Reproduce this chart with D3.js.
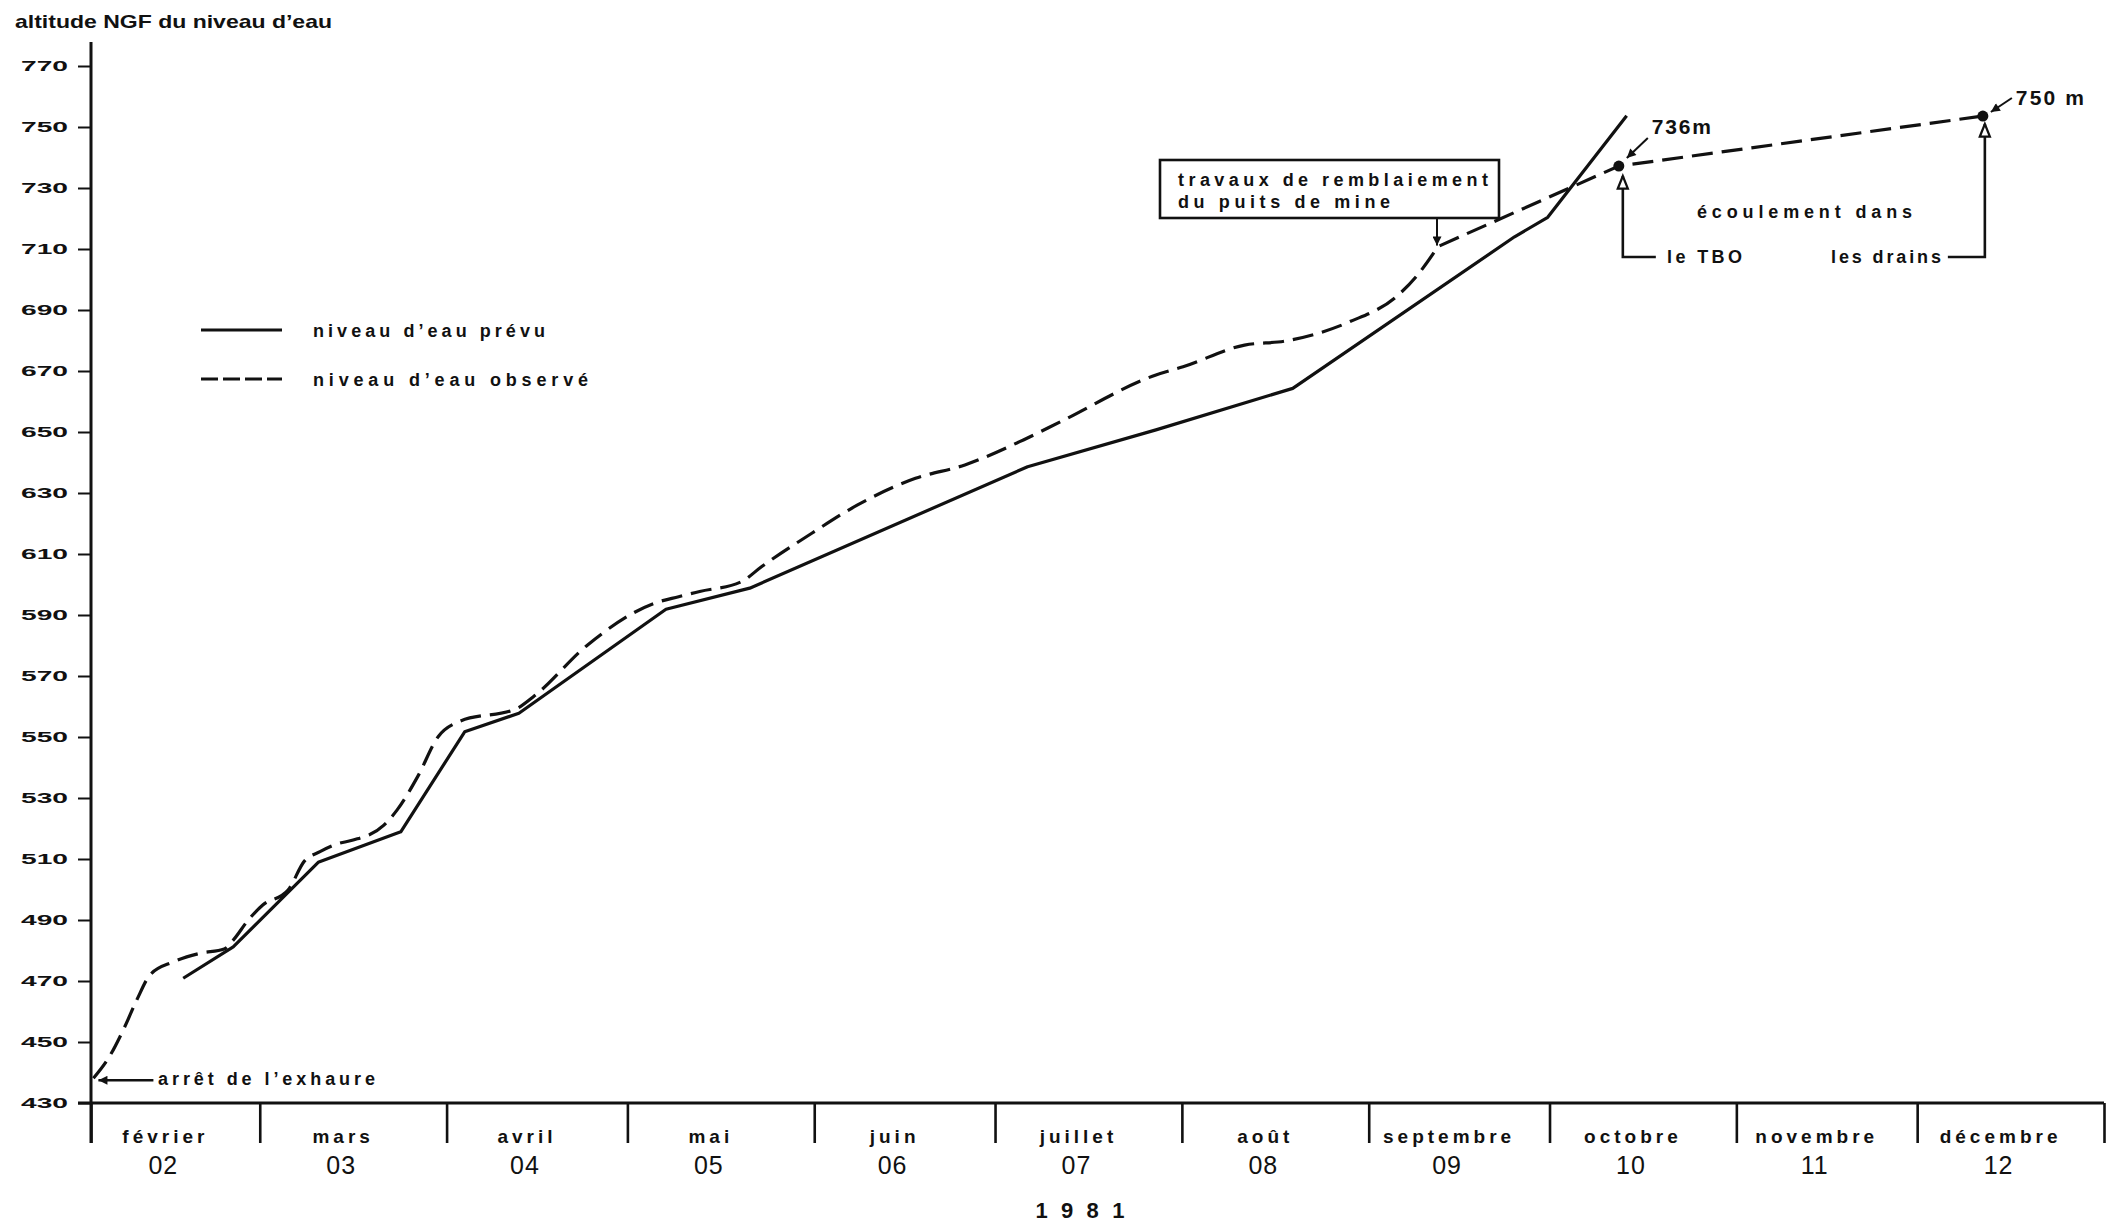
<!DOCTYPE html>
<html lang="fr">
<head>
<meta charset="utf-8">
<script src="https://cdn.jsdelivr.net/npm/d3@7"></script>
<style>
  html, body { margin: 0; padding: 0; background: #fff; }
  svg { display: block; }
  text { font-family: 'Liberation Sans', 'DejaVu Sans', sans-serif; fill: #111; }
</style>
</head>
<body>
<svg id="chart"></svg>
<script>
'use strict'

// --- données ---
const moisNoms = ['février', 'mars', 'avril', 'mai', 'juin', 'juillet', 'août',
  'septembre', 'octobre', 'novembre', 'décembre']
const moisNums = ['02', '03', '04', '05', '06', '07', '08', '09', '10', '11', '12']
const annee = '1 9 8 1'
const yTicks = [430, 450, 470, 490, 510, 530, 550, 570, 590, 610, 630, 650,
  670, 690, 710, 730, 750, 770]

// jours comptés depuis le 1er février 1981
const joursPrevu = [15.3, 23.6, 37.7, 51.4, 62.0, 71.0, 95.4, 109.3, 155.4,
  176.7, 199.4, 236.2, 241.7, 254.8]
const niveauPrevu = [470.9, 481.2, 508.9, 518.9, 551.7, 557.8, 591.9, 598.8,
  638.6, 650.7, 664.3, 714.0, 720.4, 753.7]

const joursObserve = [0.4, 3.2, 5.6, 7.6, 9.8, 13.7, 18.1, 22.1, 23.6, 26.1,
  28.5, 32.7, 35.4, 38.0, 41.1, 43.5, 48.6, 50.8, 54.2, 57.6, 61.0, 70.7, 73.4,
  82.4, 93.4, 97.5, 101.0, 107.9, 111.3, 119.6, 127.2, 136.8, 145.0, 154.7,
  160.9, 176.7, 181.2, 191.4, 198.1, 208.9, 216.6, 219.9, 223.5, 253.5, 313.9]
const niveauObserve = [438.1, 445.7, 455.0, 463.8, 472.0, 476.3, 479.1, 480.5,
  483.4, 490.0, 494.9, 499.8, 509.3, 512.4, 515.1, 516.2, 521.1, 526.1, 537.0,
  550.1, 555.0, 559.4, 563.2, 580.2, 593.8, 596.0, 597.7, 600.9, 605.9, 616.8,
  626.1, 634.8, 639.2, 647.4, 653.4, 668.7, 671.4, 678.5, 679.8, 686.2, 694.4,
  701.0, 710.8, 737.2, 753.6]

// points remarquables
const jourRemblaiement = 223.5
const niveauRemblaiement = 710.8
const repereJours = [253.5, 313.9]
const repereNiveaux = [737.2, 753.6]
const repereLabels = ['736m', '750 m']

// --- mise en page ---
const width = 2107,
  height = 1222
const margin = { top: 66, right: 3, bottom: 119, left: 91 }
const ink = '#111'

const debut = Date.UTC(1981, 1, 1)
const toDate = j => new Date(debut + j * 864e5)

const svg = d3.select('#chart')
  .attr('width', width)
  .attr('height', height)

const x = d3.scaleUtc()
  .domain([new Date(debut), new Date(Date.UTC(1982, 0, 1))])
  .range([margin.left, width - margin.right])

const y = d3.scaleLinear()
  .domain([430, 770])
  .range([height - margin.bottom, margin.top])

// markers
const defs = svg.append('defs')
defs.append('marker')
  .attr('id', 'fleche')
  .attr('viewBox', '0 0 10 10')
  .attr('refX', 10).attr('refY', 5)
  .attr('markerWidth', 15).attr('markerHeight', 9)
  .attr('markerUnits', 'userSpaceOnUse')
  .attr('orient', 'auto')
  .append('path')
  .attr('d', 'M0,0 L10,5 L0,10 z')
  .attr('fill', ink)
defs.append('marker')
  .attr('id', 'flecheVide')
  .attr('viewBox', '-1 -1 12 12')
  .attr('refX', 10).attr('refY', 5)
  .attr('markerWidth', 19).attr('markerHeight', 15)
  .attr('markerUnits', 'userSpaceOnUse')
  .attr('orient', 'auto')
  .append('path')
  .attr('d', 'M0,1 L10,5 L0,9 z')
  .attr('fill', '#fff')
  .attr('stroke', ink)
  .attr('stroke-width', 1.8)

// title
svg.append('text')
  .attr('x', 15).attr('y', 28)
  .attr('font-size', 19).attr('font-weight', 'bold')
  .attr('textLength', 317).attr('lengthAdjust', 'spacingAndGlyphs')
  .text('altitude NGF du niveau d’eau')

// y axis
const yAxis = svg.append('g')
  .attr('transform', 'translate(' + margin.left + ',0)')
  .call(d3.axisLeft(y).tickValues(yTicks).tickSize(13).tickPadding(10)
    .tickFormat(d3.format('d')))
yAxis.select('.domain').remove()
yAxis.selectAll('.tick line').attr('stroke', ink).attr('stroke-width', 2)
yAxis.selectAll('.tick text')
  .attr('font-size', 15).attr('font-weight', 'bold')
  .attr('font-family', "'Liberation Sans', sans-serif")
  .attr('fill', ink)
  .attr('textLength', 47).attr('lengthAdjust', 'spacingAndGlyphs')

svg.append('line')
  .attr('x1', margin.left).attr('x2', margin.left)
  .attr('y1', 42).attr('y2', y(430) + 40)
  .attr('stroke', ink).attr('stroke-width', 3)

// x axis
const xAxis = svg.append('g')
  .attr('transform', 'translate(0,' + y(430) + ')')
  .call(d3.axisBottom(x).ticks(d3.utcMonth.every(1)).tickSize(40).tickFormat(''))
xAxis.select('.domain').remove()
xAxis.selectAll('.tick line').attr('stroke', ink).attr('stroke-width', 2.6)

svg.append('line')
  .attr('x1', margin.left - 13).attr('x2', width - margin.right)
  .attr('y1', y(430)).attr('y2', y(430))
  .attr('stroke', ink).attr('stroke-width', 3)

const milieux = d3.utcMonths(new Date(debut), new Date(Date.UTC(1982, 0, 1)))
  .map(m => new Date((+m + +d3.utcMonth.offset(m, 1)) / 2))

svg.append('g').selectAll('text')
  .data(moisNoms)
  .join('text')
  .attr('x', (d, i) => x(milieux[i]) - 10)
  .attr('y', y(430) + 40)
  .attr('text-anchor', 'middle')
  .attr('font-size', 19).attr('font-weight', 'bold')
  .attr('letter-spacing', 4)
  .text(d => d)

svg.append('g').selectAll('text')
  .data(moisNums)
  .join('text')
  .attr('x', (d, i) => x(milieux[i]) - 12)
  .attr('y', y(430) + 71)
  .attr('text-anchor', 'middle')
  .attr('font-size', 25)
  .attr('letter-spacing', 1)
  .text(d => d)

svg.append('text')
  .attr('x', x(new Date(Date.UTC(1981, 6, 15))) - 44)
  .attr('y', y(430) + 115)
  .attr('font-size', 22).attr('font-weight', 'bold')
  .attr('textLength', 89).attr('lengthAdjust', 'spacing')
  .text(annee)

// lines
const prevu = joursPrevu.map((j, i) => ({ date: toDate(j), v: niveauPrevu[i] }))
const observe = joursObserve.map((j, i) => ({ date: toDate(j), v: niveauObserve[i] }))

svg.append('path')
  .datum(prevu)
  .attr('fill', 'none')
  .attr('stroke', ink)
  .attr('stroke-width', 3.2)
  .attr('stroke-linejoin', 'round')
  .attr('d', d3.line().x(d => x(d.date)).y(d => y(d.v)))

// observed: smooth up to the backfilling works, straight segments afterwards
const iKink = joursObserve.indexOf(jourRemblaiement)
const courbe = d3.line().x(d => x(d.date)).y(d => y(d.v)).curve(d3.curveMonotoneX)
const suite = observe.slice(iKink + 1).map(d => 'L' + x(d.date) + ',' + y(d.v)).join('')

svg.append('path')
  .attr('fill', 'none')
  .attr('stroke', ink)
  .attr('stroke-width', 3.2)
  .attr('stroke-dasharray', '21,9')
  .attr('d', courbe(observe.slice(0, iKink + 1)) + suite)

// legend
const legend = svg.append('g')
legend.append('line')
  .attr('x1', 201).attr('x2', 282).attr('y1', 330).attr('y2', 330)
  .attr('stroke', ink).attr('stroke-width', 3.2)
legend.append('line')
  .attr('x1', 201).attr('x2', 282).attr('y1', 379).attr('y2', 379)
  .attr('stroke', ink).attr('stroke-width', 3.2)
  .attr('stroke-dasharray', '17,5')
legend.append('text')
  .attr('x', 313).attr('y', 337)
  .attr('font-size', 18).attr('font-weight', 'bold')
  .attr('textLength', 232).attr('lengthAdjust', 'spacing')
  .text('niveau d’eau prévu')
legend.append('text')
  .attr('x', 313).attr('y', 386)
  .attr('font-size', 18).attr('font-weight', 'bold')
  .attr('textLength', 275).attr('lengthAdjust', 'spacing')
  .text('niveau d’eau observé')

// annotation : arrêt de l'exhaure
const p0 = observe[0]
svg.append('line')
  .attr('x1', x(p0.date) + 60).attr('x2', x(p0.date) + 5)
  .attr('y1', y(p0.v) + 2).attr('y2', y(p0.v) + 2)
  .attr('stroke', ink).attr('stroke-width', 2.4)
  .attr('marker-end', 'url(#fleche)')
svg.append('text')
  .attr('x', 158).attr('y', 1085)
  .attr('font-size', 18).attr('font-weight', 'bold')
  .attr('textLength', 217).attr('lengthAdjust', 'spacing')
  .text('arrêt de l’exhaure')

// annotation : travaux de remblaiement
const px = x(toDate(jourRemblaiement)), py = y(niveauRemblaiement)
svg.append('rect')
  .attr('x', 1160).attr('y', 160).attr('width', 339).attr('height', 58)
  .attr('fill', '#fff').attr('stroke', ink).attr('stroke-width', 2.6)
svg.append('text')
  .attr('x', 1178).attr('y', 186)
  .attr('font-size', 18).attr('font-weight', 'bold')
  .attr('textLength', 310).attr('lengthAdjust', 'spacing')
  .text('travaux de remblaiement')
svg.append('text')
  .attr('x', 1178).attr('y', 208)
  .attr('font-size', 18).attr('font-weight', 'bold')
  .attr('textLength', 212).attr('lengthAdjust', 'spacing')
  .text('du puits de mine')
svg.append('line')
  .attr('x1', px - 1).attr('x2', px - 1)
  .attr('y1', 218).attr('y2', py - 1)
  .attr('stroke', ink).attr('stroke-width', 2)
  .attr('marker-end', 'url(#fleche)')

// repères 736 m et 750 m
const reperes = repereJours.map((j, i) => ({
  x: x(toDate(j)), y: y(repereNiveaux[i]), label: repereLabels[i]
}))

svg.append('g').selectAll('circle')
  .data(reperes)
  .join('circle')
  .attr('cx', d => d.x).attr('cy', d => d.y).attr('r', 5.5)
  .attr('fill', ink)

svg.append('g').selectAll('text')
  .data(reperes)
  .join('text')
  .attr('x', d => d.x + 33)
  .attr('y', (d, i) => d.y - (i === 0 ? 32 : 11))
  .attr('font-size', 21).attr('font-weight', 'bold')
  .attr('textLength', (d, i) => (i === 0 ? 59 : 68)).attr('lengthAdjust', 'spacing')
  .text(d => d.label)

svg.append('g').selectAll('line')
  .data(reperes)
  .join('line')
  .attr('x1', d => d.x + 29)
  .attr('y1', (d, i) => d.y - (i === 0 ? 28 : 18))
  .attr('x2', d => d.x + 8)
  .attr('y2', (d, i) => d.y - (i === 0 ? 8 : 4))
  .attr('stroke', ink).attr('stroke-width', 2)
  .attr('marker-end', 'url(#fleche)')

// flèches d'écoulement
const baseY = 257
svg.append('path')
  .attr('d', 'M' + (reperes[0].x + 37) + ',' + baseY + 'H' + (reperes[0].x + 4) +
    'V' + (reperes[0].y + 10))
  .attr('fill', 'none').attr('stroke', ink).attr('stroke-width', 2.6)
  .attr('marker-end', 'url(#flecheVide)')
svg.append('path')
  .attr('d', 'M' + (reperes[1].x - 35) + ',' + baseY + 'H' + (reperes[1].x + 2) +
    'V' + (reperes[1].y + 8))
  .attr('fill', 'none').attr('stroke', ink).attr('stroke-width', 2.6)
  .attr('marker-end', 'url(#flecheVide)')

svg.append('text')
  .attr('x', 1697).attr('y', 218)
  .attr('font-size', 18).attr('font-weight', 'bold')
  .attr('textLength', 215).attr('lengthAdjust', 'spacing')
  .text('écoulement dans')
svg.append('text')
  .attr('x', 1667).attr('y', 263)
  .attr('font-size', 18).attr('font-weight', 'bold')
  .attr('textLength', 75).attr('lengthAdjust', 'spacing')
  .text('le TBO')
svg.append('text')
  .attr('x', 1831).attr('y', 263)
  .attr('font-size', 18).attr('font-weight', 'bold')
  .attr('textLength', 110).attr('lengthAdjust', 'spacing')
  .text('les drains')
</script>
</body>
</html>
